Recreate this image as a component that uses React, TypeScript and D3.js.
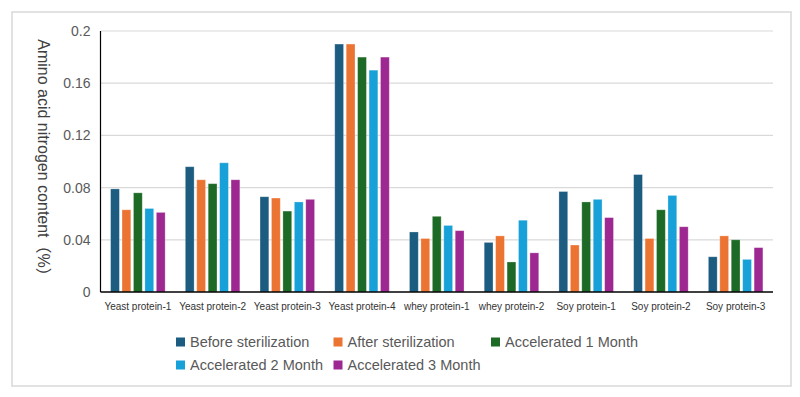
import React, { useEffect, useRef } from 'react';
import * as d3 from 'd3';

// Sample names along the x axis
const categories = [
  'Yeast protein-1',
  'Yeast protein-2',
  'Yeast protein-3',
  'Yeast protein-4',
  'whey protein-1',
  'whey protein-2',
  'Soy protein-1',
  'Soy protein-2',
  'Soy protein-3',
];

// One series per storage condition (%)
const seriesNames = [
  'Before sterilization',
  'After sterilization',
  'Accelerated 1 Month',
  'Accelerated 2 Month',
  'Accelerated 3 Month',
];
const beforeSterilization = [0.079, 0.096, 0.073, 0.19, 0.046, 0.038, 0.077, 0.09, 0.027];
const afterSterilization = [0.063, 0.086, 0.072, 0.19, 0.041, 0.043, 0.036, 0.041, 0.043];
const accelerated1Month = [0.076, 0.083, 0.062, 0.18, 0.058, 0.023, 0.069, 0.063, 0.04];
const accelerated2Month = [0.064, 0.099, 0.069, 0.17, 0.051, 0.055, 0.071, 0.074, 0.025];
const accelerated3Month = [0.061, 0.086, 0.071, 0.18, 0.047, 0.03, 0.057, 0.05, 0.034];

const yTicks = [0, 0.04, 0.08, 0.12, 0.16, 0.2];
const colors = ['#1b5c80', '#ec7432', '#1c6a25', '#18a0d8', '#9e2891'];

const App = () => {
  const svgRef = useRef<SVGSVGElement>(null);

  useEffect(() => {
    const svg = d3.select(svgRef.current);
    svg.selectAll('*').remove();

    const width = 800;
    const height = 397;
    const margin = { top: 31, right: 27, bottom: 105, left: 100.5 };
    const font = '"Liberation Sans", Arial, sans-serif';

    svg.attr('width', width).attr('height', height);

    // light outer frame like the exported chart area
    svg.append('rect')
      .attr('x', 12).attr('y', 12)
      .attr('width', 779).attr('height', 374)
      .attr('fill', '#fff')
      .attr('stroke', '#d9d9d9')
      .attr('stroke-width', 1.5);

    const all = [beforeSterilization, afterSterilization, accelerated1Month, accelerated2Month, accelerated3Month];
    const data = categories.map((c, i) => ({
      category: c,
      values: all.map((s, k) => ({ key: seriesNames[k], value: s[i] })),
    }));

    const x0 = d3.scaleBand()
      .domain(categories)
      .range([margin.left, width - margin.right])
      .paddingInner(0.27)
      .paddingOuter(0.135);

    const x1 = d3.scaleBand()
      .domain(seriesNames)
      .range([0, x0.bandwidth()])
      .paddingInner(0.23);

    const y = d3.scaleLinear()
      .domain([0, 0.2])
      .range([height - margin.bottom, margin.top]);

    const color = d3.scaleOrdinal<string>().domain(seriesNames).range(colors);

    // gridlines
    svg.append('g')
      .selectAll('line')
      .data(yTicks.slice(1))
      .enter()
      .append('line')
      .attr('x1', margin.left)
      .attr('x2', width - margin.right)
      .attr('y1', (d) => y(d))
      .attr('y2', (d) => y(d))
      .attr('stroke', '#d9d9d9')
      .attr('stroke-width', 1.2);

    // y tick labels
    svg.append('g')
      .selectAll('text')
      .data(yTicks)
      .enter()
      .append('text')
      .attr('x', margin.left - 10)
      .attr('y', (d) => y(d))
      .attr('dy', '0.36em')
      .attr('text-anchor', 'end')
      .style('font-family', font)
      .style('font-size', '14px')
      .style('fill', '#595959')
      .text((d) => (d === 0 ? '0' : String(d)));

    // bars
    const groups = svg.append('g')
      .selectAll('g')
      .data(data)
      .enter()
      .append('g')
      .attr('transform', (d) => `translate(${x0(d.category)},0)`);

    groups.selectAll('rect')
      .data((d) => d.values)
      .enter()
      .append('rect')
      .attr('x', (d) => x1(d.key)!)
      .attr('y', (d) => y(d.value))
      .attr('width', x1.bandwidth())
      .attr('height', (d) => y(0) - y(d.value))
      .attr('fill', (d) => color(d.key))
      .attr('stroke', 'rgba(255,255,255,0.35)')
      .attr('stroke-width', 0.8);

    // axis lines
    svg.append('line')
      .attr('x1', margin.left).attr('x2', margin.left)
      .attr('y1', y(0.2)).attr('y2', y(0))
      .attr('stroke', '#000').attr('stroke-width', 1.2);
    svg.append('line')
      .attr('x1', margin.left).attr('x2', width - margin.right)
      .attr('y1', y(0)).attr('y2', y(0))
      .attr('stroke', '#000').attr('stroke-width', 1.5);

    // category labels
    svg.append('g')
      .selectAll('text')
      .data(categories)
      .enter()
      .append('text')
      .attr('x', (d) => x0(d)! + x0.bandwidth() / 2)
      .attr('y', y(0) + 18)
      .attr('text-anchor', 'middle')
      .style('font-family', font)
      .style('font-size', '10px')
      .style('fill', '#333')
      .text((d) => d);

    // y axis title, reading top to bottom
    svg.append('text')
      .attr('transform', `translate(38, ${(y(0) + y(0.2)) / 2}) rotate(90)`)
      .attr('text-anchor', 'middle')
      .style('font-family', `${font}, "Noto Sans CJK SC"`)
      .style('font-size', '16px')
      .style('fill', '#404040')
      .text('Amino acid nitrogen content（%）');

    // legend, three items per row
    const legend = svg.append('g')
      .selectAll('g')
      .data(seriesNames)
      .enter()
      .append('g')
      .attr('transform', (d, i) => `translate(${176 + (i % 3) * 157.5}, ${342 + Math.floor(i / 3) * 23})`);

    legend.append('rect')
      .attr('x', 0).attr('y', -4.5)
      .attr('width', 9).attr('height', 9)
      .attr('fill', (d) => color(d));

    legend.append('text')
      .attr('x', 14)
      .attr('y', 0)
      .attr('dy', '0.36em')
      .style('font-family', font)
      .style('font-size', '14.5px')
      .style('fill', '#595959')
      .text((d) => d);
  }, []);

  return (
    <div style={{ position: 'absolute', left: 0, top: 0 }}>
      <svg ref={svgRef}></svg>
    </div>
  );
};

export default App;
